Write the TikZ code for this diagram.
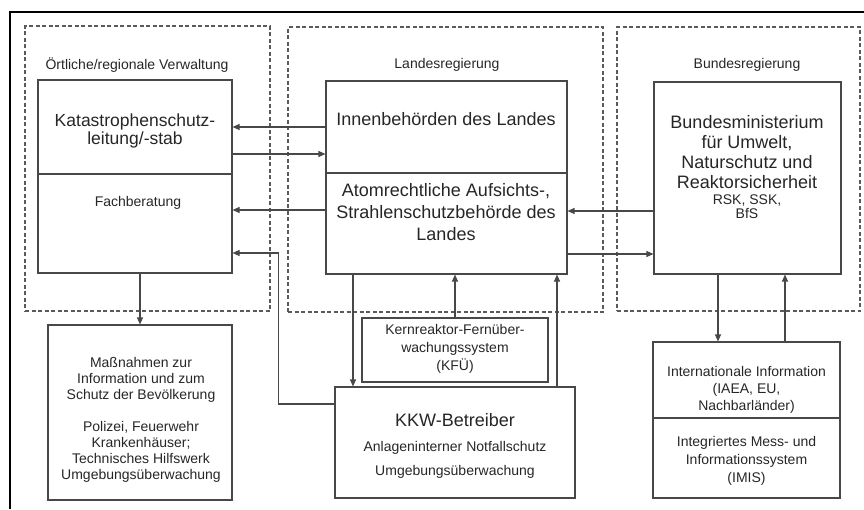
\documentclass[tikz,border=0pt]{standalone}
\usepackage{fontspec}
\setmainfont{Liberation Sans}
\usetikzlibrary{arrows.meta,calc}
\definecolor{ln}{HTML}{484848}
\definecolor{gl}{HTML}{5A5A5A}
\definecolor{tx}{HTML}{262626}
\begin{document}
\begin{tikzpicture}[x=1pt,y=-1pt,
 box/.style={draw=ln,line width=1.1pt,inner sep=0pt},
 grp/.style={draw=gl,dash pattern=on 4pt off 2.5pt,line width=1.1pt,inner sep=0pt},
 big/.style={text=tx,align=center,font=\fontsize{18}{21}\selectfont,inner sep=0pt},
 small/.style={text=tx,align=center,font=\fontsize{14}{17}\selectfont,inner sep=0pt},
 arr/.style={draw=ln,line width=1.1pt,-{Triangle[length=7pt,width=6pt]}}]
\useasboundingbox (0,0) rectangle (864,509);
% outer frame
\draw[line width=1.8pt] (10,509) -- (10,12) -- (864,12);
% groups
\node[grp,minimum width=245pt,minimum height=285pt] (g1) at (147.5,168.5) {};
\node[grp,minimum width=315pt,minimum height=285pt] (g2) at (445.5,169.5) {};
\node[grp,minimum width=243pt,minimum height=284pt] (g3) at (738.5,169) {};
\node[small] (t1) at (137,65) {Örtliche/regionale Verwaltung};
\node[small] (t2) at (447,65) {Landesregierung};
\node[small] (t3) at (747,65) {Bundesregierung};
% boxes
\node[box,minimum width=194pt,minimum height=94pt] (kat) at (135,127) {};
\node[box,minimum width=194pt,minimum height=99pt] (fach) at (135,223.5) {};
\node[box,minimum width=241pt,minimum height=92pt] (innen) at (446.5,127) {};
\node[box,minimum width=241pt,minimum height=101pt] (atom) at (446.5,223.5) {};
\node[box,minimum width=187pt,minimum height=192pt] (bund) at (747.5,178) {};
\node[box,minimum width=184pt,minimum height=175pt] (mass) at (140,412.5) {};
\node[box,minimum width=186pt,minimum height=64pt] (kfu) at (455,350) {};
\node[box,minimum width=240pt,minimum height=111pt] (kkw) at (455,442.5) {};
\node[box,minimum width=187pt,minimum height=76pt] (intl) at (746.5,380) {};
\node[box,minimum width=187pt,minimum height=80pt] (imis) at (746.5,458) {};
% texts
\node[big,font=\fontsize{17.5}{17.5}\selectfont] (katT) at (135,131) {Katastrophenschutz-\\leitung/-stab};
\node[small] (fachT) at (138,203) {Fachberatung};
\node[big] (innenT) at (446,119) {Innenbehörden des Landes};
\node[big,font=\fontsize{18}{22}\selectfont] (atomT) at (446,212.5) {Atomrechtliche Aufsichts-,\\Strahlenschutzbehörde des\\Landes};
\node[big,font=\fontsize{18}{20}\selectfont] (bundT) at (747,152) {Bundesministerium\\für Umwelt,\\Naturschutz und\\Reaktorsicherheit};
\node[small,font=\fontsize{14}{14}\selectfont] (bundS) at (747,207) {RSK, SSK,\\BfS};
\node[small,font=\fontsize{14}{16}\selectfont] (massT) at (141,419.5) {Maßnahmen zur\\Information und zum\\Schutz der Bevölkerung\\[16pt]Polizei, Feuerwehr\\Krankenhäuser;\\Technisches Hilfswerk\\Umgebungsüberwachung};
\node[small,font=\fontsize{14}{18}\selectfont] (kfuT) at (455,349) {Kernreaktor-Fernüber-\\wachungssystem\\(KFÜ)};
\node[big] (kkwT) at (455,420) {KKW-Betreiber};
\node[small] (kkwA) at (455,448) {Anlageninterner Notfallschutz};
\node[small] (kkwU) at (455,472) {Umgebungsüberwachung};
\node[small,font=\fontsize{14}{17}\selectfont] (intlT) at (746.5,390) {Internationale Information\\(IAEA, EU,\\Nachbarländer)};
\node[small,font=\fontsize{14}{18}\selectfont] (imisT) at (746.5,461) {Integriertes Mess- und\\Informationssystem\\(IMIS)};
% connectors
\draw[arr] (innen.west) -- (innen.west -| kat.east);
\coordinate (c1) at ($(kat.east)+(0,27)$);
\draw[arr] (c1) -- (c1 -| innen.west);
\coordinate (c2) at ($(atom.west)+(0,-13.5)$);
\draw[arr] (c2) -- (c2 -| fach.east);
\coordinate (c3) at ($(bund.west)+(0,33)$);
\draw[arr] (c3) -- (c3 -| atom.east);
\coordinate (c4) at ($(atom.east)+(0,30.5)$);
\draw[arr] (c4) -- (c4 -| bund.west);
\coordinate (c5) at ($(kkw.west)+(0,-38.5)$);
\coordinate (c6) at ($(fach.east)+(0,29.5)$);
\coordinate (c7) at ($(c5)+(-56,0)$);
\draw[arr] (c5) -- (c7) |- (c6);
\draw[arr] (fach.south -| mass.north) -- (mass.north);
\coordinate (c8) at ($(atom.south)+(-93.5,0)$);
\draw[arr] (c8) -- (c8 |- kkw.north);
\draw[arr] (kfu.north) -- (kfu.north |- atom.south);
\coordinate (c9) at ($(kkw.north)+(102,0)$);
\draw[arr] (c9) -- (c9 |- atom.south);
\coordinate (c10) at ($(bund.south)+(-29.5,0)$);
\draw[arr] (c10) -- (c10 |- intl.north);
\coordinate (c11) at ($(intl.north)+(38.5,0)$);
\draw[arr] (c11) -- (c11 |- bund.south);
\end{tikzpicture}
\end{document}
